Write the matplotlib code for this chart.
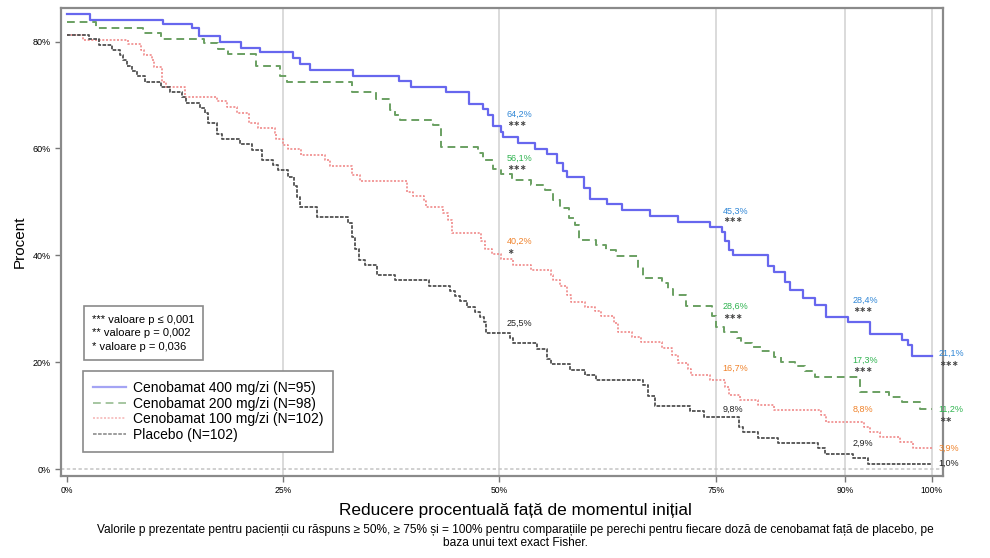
import matplotlib
matplotlib.use("Agg")
import matplotlib.pyplot as plt

plt.rcParams['font.family'] = ['Liberation Sans', 'DejaVu Sans']

# responder curves: step starts (percent reduction) and percent of patients from there on
x_400 = [0, 2.7, 11.1, 14.4, 15.3, 17.7, 20.1, 22.3, 26.1, 26.9, 28.1, 33.1, 38.4, 39.8, 43.8,
         46.5, 48.1, 48.7, 49.2, 50.2, 50.4, 52.1, 54.1, 55.5, 56.6, 57.4, 57.8, 59.8, 60.5,
         62.4, 64.2, 67.4, 70.6, 74.4, 75.7, 76.1, 76.5, 77.0, 81.1, 81.8, 83.0, 83.6, 85.1,
         86.5, 87.8, 90.3, 92.9, 96.5, 97.3, 97.7, 100]
y_400 = [85.2, 84.1, 83.3, 82.5, 81.1, 79.9, 78.9, 78.0, 77.0, 75.8, 74.7, 73.6, 72.7, 71.5, 70.5,
         68.3, 67.4, 66.3, 64.2, 63.1, 62.2, 61.0, 59.9, 59.0, 57.2, 55.7, 54.7, 52.6, 50.5,
         49.6, 48.4, 47.4, 46.3, 45.3, 44.4, 42.6, 41.0, 40.1, 38.0, 36.9, 35.1, 33.5, 32.0,
         30.7, 28.4, 27.6, 25.3, 24.2, 23.2, 21.1, 21.1]

x_200 = [0, 3.4, 8.8, 10.9, 15.8, 17.5, 18.6, 21.8, 24.6, 25.4, 33.0, 35.7, 37.3, 37.9, 38.5,
         42.3, 43.3, 47.5, 48.1, 49.3, 50.2, 51.5, 53.7, 55.3, 56.2, 57.0, 58.0, 58.7, 59.2,
         61.2, 62.3, 63.5, 66.0, 66.6, 68.8, 69.5, 70.1, 71.6, 74.6, 75.1, 76.0, 77.5, 77.9,
         79.2, 80.2, 81.8, 82.6, 84.2, 85.3, 86.5, 91.7, 95.1, 96.5, 98.6, 100]
y_200 = [83.6, 82.5, 81.6, 80.5, 79.7, 78.6, 77.7, 75.5, 73.5, 72.4, 70.5, 69.2, 67.2, 66.3, 65.4,
         64.4, 60.2, 59.2, 57.9, 56.1, 55.2, 54.1, 53.2, 52.2, 50.4, 48.8, 46.9, 45.7, 42.9,
         41.9, 41.0, 39.9, 37.9, 35.7, 34.8, 33.7, 32.6, 30.5, 28.6, 26.6, 25.7, 24.5, 23.5,
         22.9, 22.0, 21.0, 20.1, 19.2, 18.4, 17.3, 14.5, 13.5, 12.6, 11.2, 11.2]

x_100 = [0, 1.8, 7.1, 8.6, 8.9, 9.8, 10.0, 11.0, 11.5, 13.6, 17.3, 18.5, 19.6, 21.0, 22.1, 24.0,
         24.2, 25.0, 25.6, 27.1, 29.8, 30.4, 33.0, 33.9, 39.3, 40.0, 41.3, 41.5, 43.5, 44.1,
         44.5, 47.9, 48.3, 49.1, 50.2, 51.6, 53.7, 56.0, 56.2, 57.0, 57.8, 58.3, 59.9, 61.0,
         61.8, 63.2, 63.7, 65.3, 66.4, 68.8, 69.9, 70.7, 71.8, 72.2, 74.3, 76.1, 76.6, 77.8,
         79.9, 81.7, 87.2, 87.8, 92.1, 92.8, 94.0, 96.3, 97.8, 100]
y_100 = [81.3, 80.3, 79.5, 78.5, 77.5, 76.6, 75.3, 72.5, 71.5, 69.7, 68.8, 67.7, 66.7, 64.7, 63.8, 62.9,
         61.7, 60.7, 59.9, 58.8, 57.9, 56.8, 55.1, 53.9, 51.9, 51.1, 50.1, 49.1, 47.9, 46.6,
         44.1, 42.6, 41.1, 40.2, 39.3, 38.2, 37.3, 36.3, 35.3, 34.3, 32.6, 31.3, 30.4, 29.5,
         28.7, 27.3, 25.7, 24.7, 23.7, 22.6, 21.3, 19.8, 18.7, 17.6, 16.7, 15.4, 13.9, 12.9,
         12.0, 11.0, 10.1, 8.8, 7.9, 7.0, 6.0, 5.1, 3.9, 3.9]

x_pl = [0, 2.5, 3.7, 5.2, 6.1, 6.5, 6.9, 7.5, 8.1, 9.0, 10.9, 11.9, 13.3, 13.8, 15.4, 16.0, 16.3,
        17.3, 17.9, 20.0, 21.4, 22.5, 23.8, 24.4, 25.6, 26.2, 26.6, 26.9, 28.9, 32.5, 32.9,
        33.3, 33.8, 34.5, 35.8, 37.9, 41.8, 44.3, 44.9, 45.4, 46.2, 47.2, 47.7, 48.2, 48.5,
        51.2, 51.6, 54.3, 55.5, 56.0, 58.2, 59.9, 61.2, 66.6, 67.2, 68.0, 72.0, 73.6, 77.7,
        78.2, 79.9, 82.2, 86.8, 87.6, 90.9, 92.6, 100]
y_pl = [81.3, 80.4, 79.4, 78.4, 77.5, 76.5, 75.5, 74.5, 73.5, 72.5, 71.6, 70.6, 69.6, 68.6, 67.6, 66.7, 64.7,
        62.7, 61.8, 60.8, 59.8, 57.8, 56.9, 55.9, 54.7, 52.9, 51.0, 49.1, 47.1, 46.1, 43.5,
        41.2, 39.2, 38.2, 36.3, 35.3, 34.3, 33.3, 32.4, 31.4, 30.4, 29.4, 28.4, 27.5, 25.5,
        24.5, 23.5, 22.5, 20.6, 19.6, 18.6, 17.6, 16.7, 15.7, 13.7, 11.8, 10.8, 9.8, 7.8,
        6.9, 5.9, 4.9, 3.9, 2.9, 2.0, 1.0, 1.0]

labels = ["Cenobamat 400 mg/zi (N=95)", "Cenobamat 200 mg/zi (N=98)",
          "Cenobamat 100 mg/zi (N=102)", "Placebo (N=102)"]

# responder rates at the cut-offs, with significance stars vs placebo
cutoffs = [50, 75, 90, 100]
rate_400 = [64.2, 45.3, 28.4, 21.1]
rate_200 = [56.1, 28.6, 17.3, 11.2]
rate_100 = [40.2, 16.7, 8.8, 3.9]
rate_pl = [25.5, 9.8, 2.9, 1.0]
stars_400 = ["***", "***", "***", "***"]
stars_200 = ["***", "***", "***", "**"]
stars_100 = ["*", "", "", ""]
stars_pl = ["", "", "", ""]

xticks = [0, 25, 50, 75, 90, 100]
yticks = [0, 20, 40, 60, 80]

# vertical text shifts (pixels above the curve value) for value labels and stars
lab_dy = {
    "400": [12, 16, 17, 3],
    "200": [11, 10, 16, 0],
    "100": [13, 11, 13, 0],
    "pl": [9, 7, 10, 0],
}
star_dy = {
    "400": [3, 8, 8, -7],
    "200": [2, 0, 7, -10],
    "100": [3, 0, 0, 0],
    "pl": [0, 0, 0, 0],
}

fig = plt.figure(figsize=(9.9, 5.58), dpi=100)
ax = fig.add_axes([0.0616, 0.147, 0.891, 0.8387])

line_cols = ["#6767ee", "#6aa062", "#f08a8a", "#505050"]
text_cols = ["#2f86d6", "#2eb34f", "#f0822a", "#222222"]

for xv in [25, 50, 75, 90, 100]:
    ax.axvline(xv, color="#d8d8d8", lw=1.3, zorder=0)
ax.axhline(0, color="#c8c8c8", lw=1.2, ls=(0, (2, 1.5)), zorder=0)

ax.step(x_400, y_400, where="post", color=line_cols[0], lw=1.6, label=labels[0])
ax.step(x_200, y_200, where="post", color=line_cols[1], lw=1.4, ls=(0, (4, 2.5)), label=labels[1])
ax.step(x_100, y_100, where="post", color=line_cols[2], lw=1.2, ls=(0, (1.2, 1)), label=labels[2])
ax.step(x_pl, y_pl, where="post", color=line_cols[3], lw=1.3, ls=(0, (2, 0.8)), label=labels[3])

series = [("400", rate_400, stars_400), ("200", rate_200, stars_200),
          ("100", rate_100, stars_100), ("pl", rate_pl, stars_pl)]
for k, (key, rates, stars) in enumerate(series):
    for i, xc in enumerate(cutoffs):
        txt = f"{rates[i]:.1f}%".replace(".", ",")
        ax.annotate(txt, (xc, rates[i]), xytext=(5, lab_dy[key][i] * 0.72),
                    textcoords="offset points", fontsize=6.5, color=text_cols[k],
                    ha="left", va="center")
        if stars[i]:
            ax.annotate(stars[i].replace("*", "∗"), (xc, rates[i]),
                        xytext=(5.5, star_dy[key][i] * 0.72), textcoords="offset points",
                        fontsize=5.6, color="#444444", ha="left", va="center",
                        fontweight="bold", family=["DejaVu Sans"])

ax.set_xlim(-0.7, 101.3)
ax.set_ylim(-1.3, 86.3)
ax.set_xticks(xticks)
ax.set_xticklabels([f"{t}%" for t in xticks], fontsize=6.2)
ax.set_yticks(yticks)
ax.set_yticklabels([f"{t}%" for t in yticks], fontsize=6.5)
ax.tick_params(length=4, color="#777777", width=1)
for s in ax.spines.values():
    s.set_color("#8a8a8a")
    s.set_linewidth(1.6)

ax.set_ylabel("Procent", fontsize=11, labelpad=4)

ax.text(0.035, 0.345, "*** valoare p ≤ 0,001\n** valoare p = 0,002\n* valoare p = 0,036",
        transform=ax.transAxes, fontsize=8, va="top", ha="left", linespacing=1.45,
        bbox=dict(boxstyle="square,pad=0.75", fc="white", ec="#8a8a8a", lw=1.2))

leg = ax.legend(loc="lower left", bbox_to_anchor=(0.025, 0.052), fontsize=10,
                handlelength=2.4, handletextpad=0.5, labelspacing=0.12,
                borderpad=0.7, fancybox=False, framealpha=1, borderaxespad=0)
leg.get_frame().set_edgecolor("#8a8a8a")
leg.get_frame().set_linewidth(1.2)
for h in leg.get_lines():
    h.set_alpha(0.6)

fig.text(0.521, 0.085, "Reducere procentuală față de momentul inițial", fontsize=12.4,
         ha="center", va="center")
fig.text(0.521, 0.038, "Valorile p prezentate pentru pacienții cu răspuns ≥ 50%, ≥ 75% și = 100% "
         "pentru comparațiile pe perechi pentru fiecare doză de cenobamat față de placebo, pe\n"
         "baza unui text exact Fisher.", fontsize=8.6, ha="center", va="center", linespacing=1.1)

fig.savefig("out.png", dpi=100)
